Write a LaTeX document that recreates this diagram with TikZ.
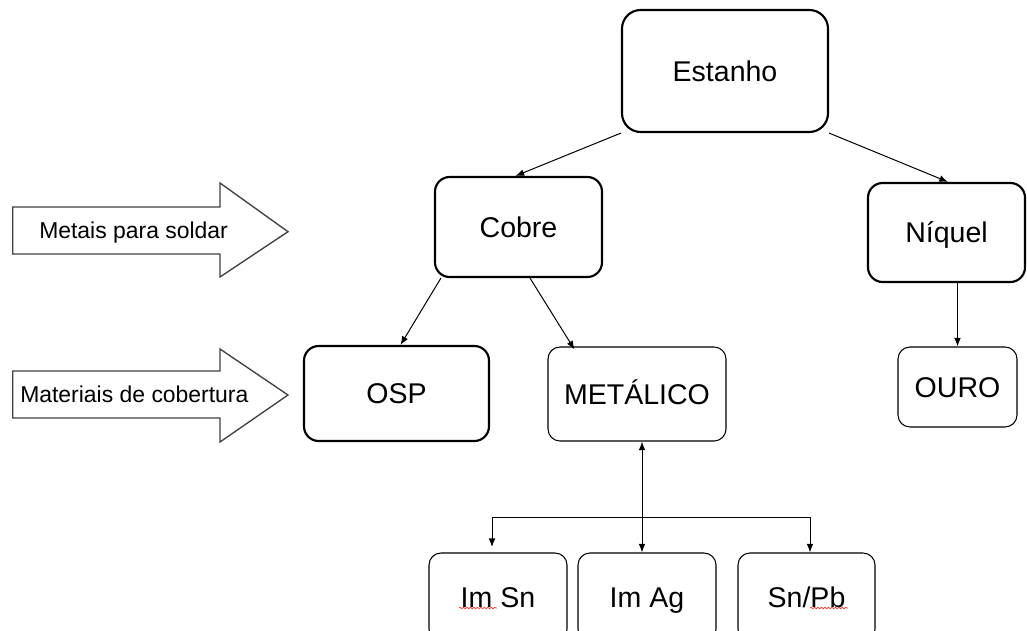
\documentclass[tikz,border=0pt]{standalone}
\usepackage{fontspec}
\setmainfont{Liberation Sans}
\usetikzlibrary{arrows.meta,calc,decorations.pathmorphing}
\begin{document}
\begin{tikzpicture}[x=0.75pt,y=-0.75pt,
  box/.style={draw,rounded corners=9pt,line width=0.8pt,inner sep=0pt,text height=15.4pt,text depth=0pt,font=\fontsize{21.4}{25}\selectfont},
  thickbox/.style={box,line width=1.6pt,rounded corners=11pt},
  conn/.style={line width=0.75pt,-{Latex[length=6.5pt,width=5pt]}},
  dconn/.style={line width=0.75pt,{Latex[length=6.5pt,width=5pt]}-{Latex[length=6.5pt,width=5pt]}},
  blockarrow/.style={draw=black!75,line width=1pt,fill=white},
  lbl/.style={font=\fontsize{17.2}{20}\selectfont,inner sep=0pt,text height=12.4pt,text depth=0pt,anchor=west},
  squiggle/.style={draw=red!80,line width=0.5pt,decorate,decoration={snake,amplitude=0.6pt,segment length=2.6pt}}]
\useasboundingbox (0,0) rectangle (1027,631);
\clip (0,0) rectangle (1027,631);

% block arrows
\draw[blockarrow] (12.7,207) -- (220,207) -- (220,183) -- (288,231.7) -- (220,277) -- (220,254) -- (12.7,254) -- cycle;
\node[lbl] (l1) at (39,230) {Metais para soldar};
\draw[blockarrow] (12.7,371) -- (220,371) -- (220,349) -- (288,395) -- (220,442) -- (220,418) -- (12.7,418) -- cycle;
\node[lbl] (l2) at (20,394) {Materiais de cobertura};

% nodes
\node[thickbox,rounded corners=14pt,minimum width=154.5pt,minimum height=91.5pt] (est) at (725,71) {Estanho};
\node[thickbox,minimum width=125.25pt,minimum height=75pt] (cob) at (518.5,227) {Cobre};
\node[thickbox,minimum width=117.75pt,minimum height=74.25pt] (niq) at (946.5,232.5) {Níquel};
\node[box,minimum width=89.25pt,minimum height=60pt] (ouro) at (957.5,387) {OURO};
\node[thickbox,minimum width=138.75pt,minimum height=71.25pt] (osp) at (396.5,393.5) {OSP};
\node[box,minimum width=133.5pt,minimum height=70.5pt] (met) at (637,394) {METÁLICO};
\node[box,minimum width=103.5pt,minimum height=66pt] (imsn) at (498,597) {Im Sn};
\node[box,minimum width=103.5pt,minimum height=66pt] (imag) at (647,597) {Im Ag};
\node[box,minimum width=102.75pt,minimum height=66pt] (snpb) at (806.5,597) {Sn/Pb};

% connectors
\draw[conn] (est.south west) -- ($(cob.north)+(-3,0)$);
\draw[conn] (est.south east) -- ($(niq.north)+(1.5,0)$);
\draw[conn] ($(cob.south west)+(7,0)$) -- ($(osp.north)+(4,0)$);
\draw[conn] ($(cob.south)+(11.5,0)$) -- ($(met.north west)+(27,3)$);
\draw[conn] (ouro.north |- niq.south) -- (ouro.north);

\coordinate (vx) at (642,0);
\coordinate (bl) at (492,517);
\coordinate (br) at (810,517);
\draw[dconn] (met.south -| vx) -- (imag.north -| vx);
\draw[line width=0.75pt] (bl) -- (br);
\draw[conn,shorten >=4pt] (bl) -- (bl |- imsn.north);
\draw[conn] (br) -- (br |- snpb.north);

% spell-check squiggles
\draw[squiggle] (459,608) -- (497,608);
\draw[squiggle] (810,608) -- (848,608);
\end{tikzpicture}
\end{document}
